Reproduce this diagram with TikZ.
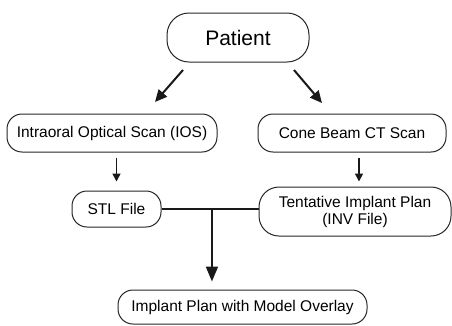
\documentclass[tikz,border=0pt]{standalone}
\usepackage{fontspec}
\setmainfont{Liberation Sans}
\usetikzlibrary{arrows.meta,calc}
\begin{document}
\begin{tikzpicture}[x=1pt,y=-1pt,
  box/.style={draw=black!85,line width=1pt,rounded corners=15pt,inner sep=0pt,align=center,font=\fontsize{15.5}{17}\selectfont,text=black},
  arr/.style={line width=2pt,draw=black!90,-{Triangle[length=12pt,width=11pt]}},
  sarr/.style={line width=1.6pt,draw=black!90,-{Triangle[length=8pt,width=8pt]}},
  barr/.style={line width=2pt,draw=black!90,-{Triangle[length=15pt,width=12pt]}},
  joinline/.style={line width=2pt,draw=black!90}]
\useasboundingbox (0,0) rectangle (452,325);
\node[box,rounded corners=22pt,minimum width=142pt,minimum height=49pt,font=\fontsize{21}{24}\selectfont] (pat) at (238,37.5) {Patient};
\node[box,minimum width=210pt,minimum height=38pt] (ios) at (112,133) {Intraoral Optical Scan (IOS)};
\node[box,minimum width=188pt,minimum height=38pt] (cb) at (352,133) {Cone Beam CT Scan};
\node[box,minimum width=89pt,minimum height=36pt] (stl) at (116.5,209) {STL File};
\node[box,rounded corners=20pt,minimum width=192pt,minimum height=49pt] (tip) at (355,211.5) {Tentative Implant Plan\\(INV File)};
\node[box,minimum width=249pt,minimum height=34pt] (bot) at (242.5,307) {Implant Plan with Model Overlay};
\coordinate (l1) at (183,70);
\coordinate (l2) at (155,102);
\coordinate (r1) at (294,70);
\coordinate (r2) at (322,103);
\draw[arr] (l1) -- (l2);
\draw[arr] (r1) -- (r2);
\draw[sarr] ([yshift=-5pt]ios.south -| stl.north) -- ([yshift=9pt]stl.north);
\draw[sarr] ([yshift=-5pt,xshift=4pt]cb.south -| tip.north) -- ([yshift=5pt,xshift=4pt]tip.north);
\coordinate (j) at ($(stl.east)!0.52!(tip.west |- stl.east)$);
\draw[joinline] (stl.east) -- (tip.west |- stl.east);
\draw[barr] (j) -- ([yshift=8pt]bot.north -| j);
\end{tikzpicture}
\end{document}
